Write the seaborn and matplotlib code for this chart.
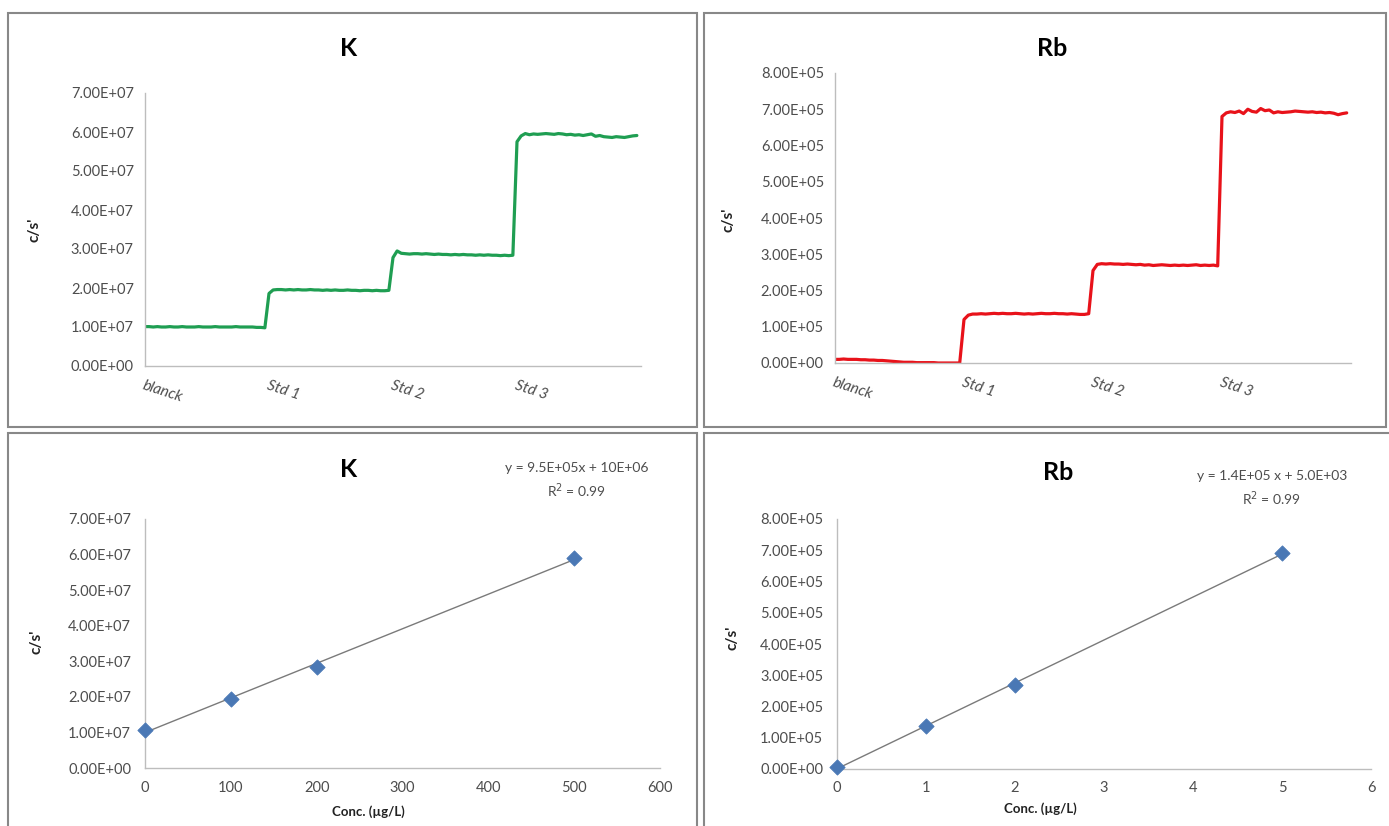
import numpy as np
import pandas as pd
import matplotlib
matplotlib.use("Agg")
import matplotlib.pyplot as plt
from matplotlib.patches import Rectangle
from matplotlib.ticker import FuncFormatter, MultipleLocator
import seaborn as sns


# ==========================================================
# Data
# ==========================================================

categories = ["blanck", "Std 1", "Std 2", "Std 3"]

# K signal trace, units of 1E7 c/s', 30 readings per solution
k_blank = [1.01, 1.01, 1.00, 1.01, 1.00, 1.00, 1.01, 1.00, 1.00, 1.01,
           1.00, 1.00, 1.00, 1.01, 1.00, 1.00, 1.00, 1.01, 1.00, 1.00,
           1.00, 1.00, 1.01, 1.00, 1.00, 1.00, 1.00, 0.99, 0.99, 0.98]
k_std1 = [1.86, 1.95, 1.96, 1.96, 1.95, 1.96, 1.95, 1.96, 1.95, 1.95,
          1.96, 1.95, 1.95, 1.94, 1.95, 1.94, 1.95, 1.94, 1.94, 1.95,
          1.94, 1.94, 1.93, 1.94, 1.94, 1.93, 1.94, 1.93, 1.93, 1.94]
k_std2 = [2.78, 2.95, 2.89, 2.88, 2.87, 2.88, 2.88, 2.87, 2.88, 2.87,
          2.86, 2.87, 2.86, 2.86, 2.85, 2.86, 2.85, 2.86, 2.85, 2.85,
          2.84, 2.85, 2.84, 2.85, 2.84, 2.84, 2.83, 2.84, 2.83, 2.84]
k_std3 = [5.75, 5.90, 5.96, 5.93, 5.95, 5.94, 5.95, 5.96, 5.95, 5.94,
          5.96, 5.95, 5.93, 5.94, 5.92, 5.93, 5.91, 5.93, 5.95, 5.89,
          5.91, 5.88, 5.87, 5.86, 5.88, 5.87, 5.86, 5.88, 5.90, 5.91]

# Rb signal trace, units of 1E5 c/s'
rb_blank = [0.10, 0.10, 0.11, 0.10, 0.10, 0.10, 0.09, 0.09, 0.08, 0.08,
            0.07, 0.07, 0.06, 0.05, 0.04, 0.03, 0.02, 0.02, 0.02, 0.01,
            0.01, 0.01, 0.01, 0.01, 0.00, 0.00, 0.00, 0.00, 0.00, 0.00]
rb_std1 = [1.20, 1.32, 1.35, 1.35, 1.36, 1.35, 1.36, 1.37, 1.36, 1.37,
           1.36, 1.36, 1.37, 1.36, 1.35, 1.36, 1.35, 1.36, 1.37, 1.36,
           1.36, 1.37, 1.36, 1.36, 1.35, 1.36, 1.35, 1.34, 1.34, 1.36]
rb_std2 = [2.55, 2.72, 2.74, 2.73, 2.74, 2.73, 2.73, 2.72, 2.73, 2.72,
           2.71, 2.72, 2.70, 2.71, 2.69, 2.70, 2.71, 2.70, 2.69, 2.70,
           2.69, 2.70, 2.69, 2.70, 2.71, 2.69, 2.70, 2.69, 2.70, 2.68]
rb_std3 = [6.80, 6.90, 6.93, 6.91, 6.95, 6.88, 7.00, 6.94, 6.92, 7.02,
           6.96, 6.98, 6.90, 6.93, 6.91, 6.92, 6.93, 6.95, 6.94, 6.93,
           6.92, 6.93, 6.91, 6.92, 6.90, 6.91, 6.89, 6.85, 6.88, 6.90]

# Calibration points
k_conc = [0, 100, 200, 500]
k_cps = [1.07e7, 1.95e7, 2.85e7, 5.90e7]

rb_conc = [0, 1, 2, 5]
rb_cps = [5.0e3, 1.37e5, 2.70e5, 6.90e5]

k_equation = "y = 9.5E+05x + 10E+06\nR$^2$ = 0.99"
rb_equation = "y = 1.4E+05 x + 5.0E+03\nR$^2$ = 0.99"


# ==========================================================
# Style
# ==========================================================

sns.set_theme(style="white")
plt.rcParams["font.family"] = ["Lato", "DejaVu Sans"]

W, H = 1389, 826
TICK_COLOR = "#4d4d4d"
AXIS_COLOR = "#bdbdbd"
GREEN = "#1f9e52"
RED = "#e8121a"
BLUE = "#4a78b5"

fig = plt.figure(figsize=(W / 100, H / 100), dpi=100)


def px_box(x0, y0, x1, y1):
    # pixel box (top-left origin) -> figure fraction rect
    return [x0 / W, 1 - y1 / H, (x1 - x0) / W, (y1 - y0) / H]


def sci(v, pos):
    return f"{v:.2E}"


# chart frames
for x0, y0, x1, y1 in [(8, 13, 697, 427), (704, 13, 1386, 427),
                       (8, 433, 697, 840), (704, 433, 1395, 840)]:
    fig.patches.append(Rectangle((x0 / W, 1 - y1 / H), (x1 - x0) / W,
                                 (y1 - y0) / H, transform=fig.transFigure,
                                 fill=False, edgecolor="#888888",
                                 linewidth=1.5))


def style_axes(ax):
    for side in ["top", "right"]:
        ax.spines[side].set_visible(False)
    for side in ["left", "bottom"]:
        ax.spines[side].set_color(AXIS_COLOR)
        ax.spines[side].set_linewidth(1.0)
    ax.set_xlabel("")
    ax.set_ylabel("")
    ax.yaxis.set_major_formatter(FuncFormatter(sci))


# ==========================================================
# Signal traces
# ==========================================================

def plot_trace(rect, segments, scale, color, ymax, step):
    ax = fig.add_axes(rect)
    values = np.concatenate([np.array(s) for s in segments]) * scale
    n_seg = len(segments[0])
    df = pd.DataFrame({"reading": np.arange(len(values)), "cps": values})
    sns.lineplot(data=df, x="reading", y="cps", color=color,
                 linewidth=2.3, ax=ax)
    style_axes(ax)
    ax.set_xlim(0, len(values))
    ax.set_ylim(0, ymax)
    ax.yaxis.set_major_locator(MultipleLocator(step))
    ax.set_xticks([i * n_seg for i in range(len(categories))])
    ax.set_xticklabels(categories, rotation=-18, ha="left", va="top",
                       rotation_mode="anchor", style="italic",
                       fontsize=11, color=TICK_COLOR)
    ax.tick_params(axis="x", length=0, pad=9)
    ax.tick_params(axis="y", length=0, pad=8, labelsize=10.5,
                   labelcolor=TICK_COLOR)
    return ax


plot_trace(px_box(145, 93, 641, 366), [k_blank, k_std1, k_std2, k_std3],
           1e7, GREEN, 7e7, 1e7)
plot_trace(px_box(835, 73, 1351, 363), [rb_blank, rb_std1, rb_std2, rb_std3],
           1e5, RED, 8e5, 1e5)


# ==========================================================
# Calibration curves
# ==========================================================

def plot_calibration(rect, conc, cps, xmax, xstep, ymax, ystep):
    ax = fig.add_axes(rect)
    df = pd.DataFrame({"conc": conc, "cps": cps})
    sns.regplot(data=df, x="conc", y="cps", ci=None, scatter=False,
                line_kws={"color": "#7a7a7a", "linewidth": 1.0}, ax=ax)
    sns.scatterplot(data=df, x="conc", y="cps", marker="D", s=60,
                    color=BLUE, edgecolor=BLUE, zorder=3, ax=ax,
                    clip_on=False)
    style_axes(ax)
    ax.set_xlim(0, xmax)
    ax.set_ylim(0, ymax)
    ax.xaxis.set_major_locator(MultipleLocator(xstep))
    ax.yaxis.set_major_locator(MultipleLocator(ystep))
    ax.tick_params(axis="both", length=4, width=1, color=AXIS_COLOR,
                   labelsize=10.5, labelcolor=TICK_COLOR, pad=5)
    ax.tick_params(axis="y", pad=6)
    return ax


plot_calibration(px_box(145, 519, 660, 768), k_conc, k_cps,
                 600, 100, 7e7, 1e7)
plot_calibration(px_box(837, 519, 1371, 769), rb_conc, rb_cps,
                 6, 1, 8e5, 1e5)


# ==========================================================
# Titles and labels
# ==========================================================

def ftext(x, y, s, **kw):
    fig.text(x / W, 1 - y / H, s, **kw)


for x, y, s in [(349, 48, "K"), (1052, 48, "Rb"),
                (349, 469, "K"), (1058, 473, "Rb")]:
    ftext(x, y, s, fontsize=18, fontweight="bold", ha="center",
          va="center", color="black")

for x, y in [(35, 230), (728, 220), (37, 642), (732, 638)]:
    ftext(x, y, "c/s'", fontsize=11, fontweight="bold", rotation=90,
          ha="center", va="center", color="#222222")

for x, y in [(368, 812), (1040, 809)]:
    ftext(x, y, "Conc. (µg/L)", fontsize=9.5, fontweight="bold",
          ha="center", va="center", color="#222222")

ftext(577, 481, k_equation, fontsize=10, ha="center", va="center",
      color=TICK_COLOR, linespacing=1.45, multialignment="center")
ftext(1272, 489, rb_equation, fontsize=10, ha="center", va="center",
      color=TICK_COLOR, linespacing=1.45, multialignment="center")

fig.savefig("out.png", dpi=100, facecolor="white")
